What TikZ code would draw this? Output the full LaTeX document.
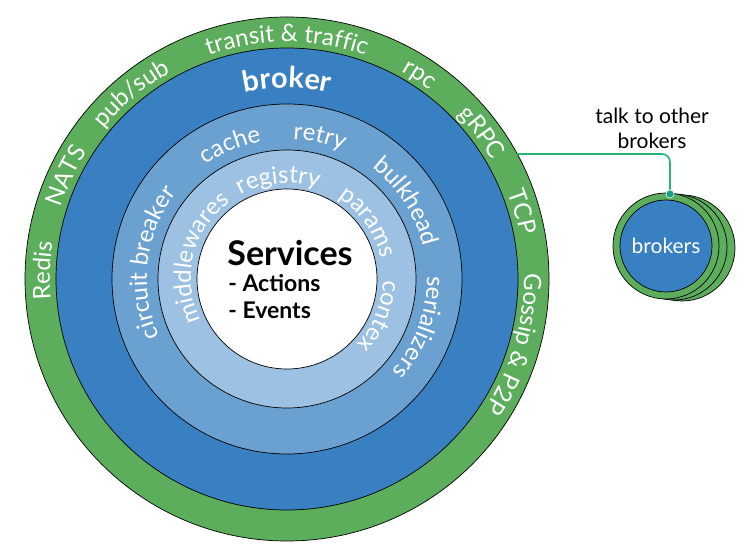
\documentclass[tikz,border=0pt]{standalone}
\usepackage{fontspec}
\setmainfont{Lato}
\usepackage{tikz}
\usetikzlibrary{decorations.text}
\definecolor{meshgreen}{RGB}{92,173,92}
\definecolor{brokerblue}{RGB}{56,128,193}
\definecolor{midblue}{RGB}{107,161,208}
\definecolor{paleblue}{RGB}{157,193,226}
\definecolor{linkgreen}{RGB}{38,180,120}
\definecolor{tapteal}{RGB}{22,160,140}
\newcommand{\ringfont}{\color{white}\fontsize{24}{28}\selectfont}
\newcommand{\brokerfont}{\color{white}\bfseries\fontsize{29}{34}\selectfont}
\newcommand{\ringlabel}[4][\ringfont]{%
  \path[decorate,decoration={text along path,text align=center,text={|#1|#4}}]
    (ctr) ++(#3+70:#2pt) arc[start angle=#3+70,end angle=#3-70,radius=#2pt];}

\begin{document}
\begin{tikzpicture}[x=1pt,y=1pt,line width=0.7pt,
    ring/.style={draw=black,fill=#1},
    link/.style={linkgreen,line width=1.6pt,rounded corners=8pt}]
    \useasboundingbox (0,0) rectangle (750,557);
    \coordinate (ctr) at (287,278);

    % rings, outside in
    \fill[ring=meshgreen] (ctr) circle[radius=262pt];
    \fill[ring=brokerblue] (ctr) circle[radius=231pt];
    \fill[ring=midblue] (ctr) circle[radius=175pt];
    \fill[ring=paleblue] (ctr) circle[radius=129pt];
    \fill[ring=white] (ctr) circle[radius=90pt];

    \ringlabel{237}{178}{Redis}
    \ringlabel{237}{155}{NATS}
    \ringlabel{237}{130}{pub/sub}
    \ringlabel{237}{90}{transit {\&} traffic}
    \ringlabel{237}{57}{rpc}
    \ringlabel{237}{37}{gRPC}
    \ringlabel{237}{16}{TCP}
    \ringlabel{237}{-16}{Gossip {\&} P2P}
    \ringlabel[\brokerfont]{191}{90}{broker}
    \ringlabel{140}{173}{circuit breaker}
    \ringlabel{140}{113}{cache}
    \ringlabel{140}{77}{retry}
    \ringlabel{140}{33}{bulkhead}
    \ringlabel{140}{-20}{serializers}
    \ringlabel{96}{166}{middlewares}
    \ringlabel{96}{95}{registry}
    \ringlabel{96}{35}{params}
    \ringlabel{96}{-22}{contex}

    \node (svc) at (290,304) {\bfseries\fontsize{34}{38}\selectfont Services};
    \node[anchor=west,inner sep=0pt] (act) at (228,274) {\bfseries\fontsize{23}{26}\selectfont - Actions};
    \node[anchor=west,inner sep=0pt] (evt) at (228,247) {\bfseries\fontsize{23}{26}\selectfont - Events};

    % other brokers, stacked
    \foreach \dx/\dy in {16/-2,8/-1} {
        \fill[ring=meshgreen] (666+\dx,311+\dy) circle[radius=53pt];
    }
    \fill[ring=meshgreen] (666,311) circle[radius=53pt];
    \node[ring=brokerblue,circle,minimum size=92pt,inner sep=0pt,text=white,
        font=\fontsize{21}{24}\selectfont] (peers) at (666,311) {brokers};

    \path (ctr) ++(28.5:262pt) coordinate (tap);
    \node[circle,fill=tapteal,draw=white!80!tapteal,inner sep=0pt,minimum size=8pt] (dot) at (670,363) {};
    \draw[link] (tap) -| (dot);
    \node[align=center,font=\fontsize{21}{25}\selectfont] (talk) at (652,429) {talk to other\\brokers};
\end{tikzpicture}
\end{document}
